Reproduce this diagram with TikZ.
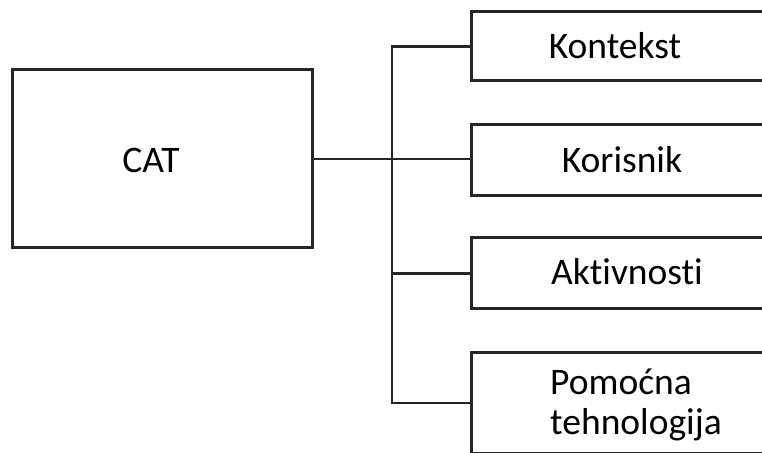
\documentclass[tikz,border=0pt]{standalone}
\usepackage{fontspec}
\setmainfont[Ligatures={NoCommon,NoRare}]{Carlito}
\begin{document}
\begin{tikzpicture}[x=1bp,y=1bp,
  box/.style={draw=black!85, line width=3bp, inner sep=0pt},
  lbl/.style={anchor=base, inner sep=0pt, font=\fontsize{37.5bp}{40bp}\selectfont},
  conn/.style={draw=black!85, line width=2.2bp}]
\useasboundingbox[clip] (0,0) rectangle (762,453);
\fill[white] (0,0) rectangle (762,453);
% boxes
\node[box, minimum width=299bp, minimum height=178bp] (cat) at (162.5,294) {};
\node[box, minimum width=300bp, minimum height=69bp] (kon) at (621,406.5) {};
\node[box, minimum width=300bp, minimum height=71bp] (kor) at (621,292.5) {};
\node[box, minimum width=300bp, minimum height=71bp] (akt) at (621,179.5) {};
\node[box, minimum width=300bp, minimum height=101bp] (pom) at (621,49.5) {};
% labels
\node[lbl] (tcat) at (151,280) {CAT};
\node[lbl] (tkon) at (615,394) {Kontekst};
\node[lbl] (tkor) at (622,280) {Korisnik};
\node[lbl] (takt) at (627,168) {Aktivnosti};
\node[lbl, anchor=base west] (tpom1) at (550,58) {Pomoćna};
\node[lbl, anchor=base west] (tpom2) at (550,18) {tehnologija};
% connectors
\coordinate (bt) at (392,406.5);
\coordinate (bb) at (392,50);
\draw[conn] (cat.east) -- (cat.east -| kor.west);
\draw[conn] (kon.west) -- (bt) -- (bb) -- (bb -| pom.west);
\draw[conn] (akt.west) -- (akt.west -| bt);
\end{tikzpicture}
\end{document}
